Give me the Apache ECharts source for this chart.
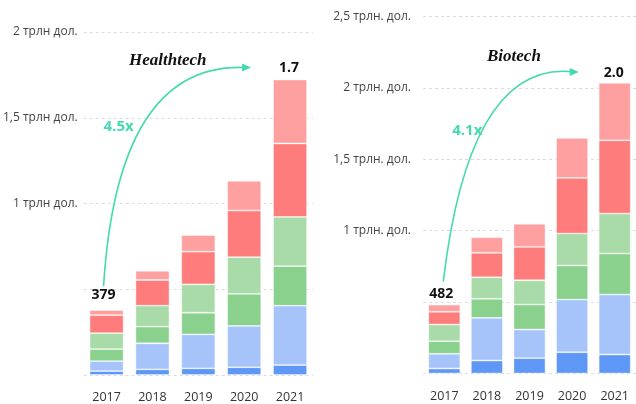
<!DOCTYPE html>
<html>
<head>
<meta charset="utf-8">
<script src="https://cdn.jsdelivr.net/npm/echarts@6/dist/echarts.min.js"></script>
<style>
  html, body { margin: 0; padding: 0; background: #fff; }
  #chart { width: 636px; height: 404px; }
</style>
</head>
<body>
<div id="chart"></div>
<script>
// Years on both panels
const years = ['2017', '2018', '2019', '2020', '2021'];

// Healthtech, billions of dollars per segment (bottom to top)
const healthSeg1 = [23, 33, 39, 45, 58];
const healthSeg2 = [58, 152, 198, 241, 346];
const healthSeg3 = [70, 97, 126, 187, 231];
const healthSeg4 = [93, 122, 166, 214, 287];
const healthSeg5 = [105, 150, 190, 272, 428];
const healthSeg6 = [30, 54, 97, 173, 373];

// Biotech, billions of dollars per segment (bottom to top)
const bioSeg1 = [35, 91, 107, 149, 133];
const bioSeg2 = [103, 299, 201, 369, 420];
const bioSeg3 = [88, 133, 175, 238, 287];
const bioSeg4 = [117, 151, 170, 224, 280];
const bioSeg5 = [89, 171, 234, 390, 513];
const bioSeg6 = [50, 109, 161, 280, 402];

// Axis tick labels
const healthTicks = [[1000, '1 трлн дол.'], [1500, '1,5 трлн дол.'], [2000, '2 трлн дол.']];
const bioTicks = [[1000, '1 трлн. дол.'], [1500, '1,5 трлн. дол.'], [2000, '2 трлн. дол.'], [2500, '2,5 трлн. дол.']];

// Growth multiples
const healthGrowth = '4.5x';
const bioGrowth = '4.1x';

const segColors = ['#5f97f6', '#a7c4fa', '#89d18d', '#a9dba9', '#fe7c7c', '#fea0a0'];
const teal = '#45d9b0';

const healthSegs = [healthSeg1, healthSeg2, healthSeg3, healthSeg4, healthSeg5, healthSeg6];
const bioSegs = [bioSeg1, bioSeg2, bioSeg3, bioSeg4, bioSeg5, bioSeg6];

function totals(segs) {
  return years.map((_, i) => segs.reduce((s, arr) => s + arr[i], 0));
}
const healthTotals = totals(healthSegs);
const bioTotals = totals(bioSegs);

function tickFormatter(ticks) {
  return function (v) {
    const t = ticks.find(p => p[0] === v);
    return t ? t[1] : '';
  };
}

function totalLabel(tot, i, dist, dx) {
  const show = i === 0 || i === years.length - 1;
  return {
    show: show,
    position: 'top',
    distance: dist,
    offset: [dx, 0],
    color: '#111',
    fontSize: 14,
    fontWeight: 'bold',
    fontFamily: 'Open Sans',
    formatter: () => i === 0 ? String(tot) : (tot / 1000).toFixed(1)
  };
}

function buildSeries(segs, tots, axisIdx, barWidth, dists) {
  return segs.map((arr, k) => ({
    type: 'bar',
    name: 'Сегмент ' + (k + 1),
    stack: 'total' + axisIdx,
    xAxisIndex: axisIdx,
    yAxisIndex: axisIdx,
    barWidth: barWidth,
    itemStyle: { color: segColors[k], borderColor: 'rgba(255,255,255,0.55)', borderWidth: 0.8 },
    data: arr.map((v, i) => k === segs.length - 1
      ? { value: v, label: totalLabel(tots[i], i, i === 0 ? dists[0] : dists[1], i === 0 ? -3 : -1) }
      : v)
  }));
}

const yLabelStyle = { color: '#444', fontSize: 12, fontFamily: 'Open Sans', verticalAlign: 'middle', padding: [0, 0, 10, 0] };
const gridLine = { show: true, lineStyle: { color: '#dcdcdc', type: [3, 3], width: 1 } };

const chart = echarts.init(document.getElementById('chart'), null, { renderer: 'canvas' });

chart.setOption({
  animation: false,
  backgroundColor: '#fff',
  title: [
    { text: 'Healthtech', left: 124, top: 47, textStyle: { fontFamily: 'Liberation Serif', fontStyle: 'italic', fontWeight: 'bold', fontSize: 17, color: '#111' } },
    { text: 'Biotech', left: 482, top: 43, textStyle: { fontFamily: 'Liberation Serif', fontStyle: 'italic', fontWeight: 'bold', fontSize: 17, color: '#111' } }
  ],
  grid: [
    { left: 82, top: 32, width: 231, bottom: 29 },
    { left: 423, top: 16.5, width: 219, bottom: 30.5 }
  ],
  xAxis: [0, 1].map(g => ({
    type: 'category',
    gridIndex: g,
    data: years,
    axisLine: { show: false },
    axisTick: { show: false },
    axisLabel: { color: '#333', fontSize: 12.5, fontFamily: 'Open Sans', margin: 16 }
  })),
  yAxis: [
    { type: 'value', gridIndex: 0, min: 0, max: 2000, interval: 500, axisLine: { show: false }, axisTick: { show: false }, splitLine: gridLine,
      axisLabel: Object.assign({ margin: 6, formatter: tickFormatter(healthTicks) }, yLabelStyle) },
    { type: 'value', gridIndex: 1, min: 0, max: 2500, interval: 500, axisLine: { show: false }, axisTick: { show: false }, splitLine: gridLine,
      axisLabel: Object.assign({ margin: 12, formatter: tickFormatter(bioTicks) }, yLabelStyle) }
  ],
  series: buildSeries(healthSegs, healthTotals, 0, 34, [8, 4])
    .concat(buildSeries(bioSegs, bioTotals, 1, 32, [4, 3]))
});

// Growth arrows from the first total up to the last one
function arrowGraphics(gridIndex, tots, startOff, endOff, ctrl, textOff, text) {
  const p0 = chart.convertToPixel({ gridIndex: gridIndex }, [years[0], tots[0]]);
  const p4 = chart.convertToPixel({ gridIndex: gridIndex }, [years[years.length - 1], tots[years.length - 1]]);
  const sx = p0[0] + startOff[0], sy = p0[1] + startOff[1];
  const ex = p4[0] + endOff[0], ey = p4[1] + endOff[1];
  const cx = sx + ctrl[0], cy = ey + ctrl[1];
  return [
    { type: 'bezierCurve', silent: true,
      shape: { x1: sx, y1: sy, x2: ex, y2: ey, cpx1: cx, cpy1: cy },
      style: { stroke: teal, lineWidth: 1.6, fill: null } },
    { type: 'polygon', silent: true,
      shape: { points: [[ex + 5, ey], [ex - 4, ey - 4], [ex - 4, ey + 4]] },
      style: { fill: teal } },
    { type: 'text', silent: true, x: sx + textOff[0], y: sy + textOff[1],
      style: { text: text, fill: teal, font: 'bold 15px "Open Sans"', align: 'center', verticalAlign: 'middle' } }
  ];
}

chart.setOption({
  graphic: arrowGraphics(0, healthTotals, [-3, -24], [-44, -12], [14, -6], [15, -159], healthGrowth)
    .concat(arrowGraphics(1, bioTotals, [-1, -23], [-41, -11], [26, -12], [24, -151], bioGrowth))
});
</script>
</body>
</html>
